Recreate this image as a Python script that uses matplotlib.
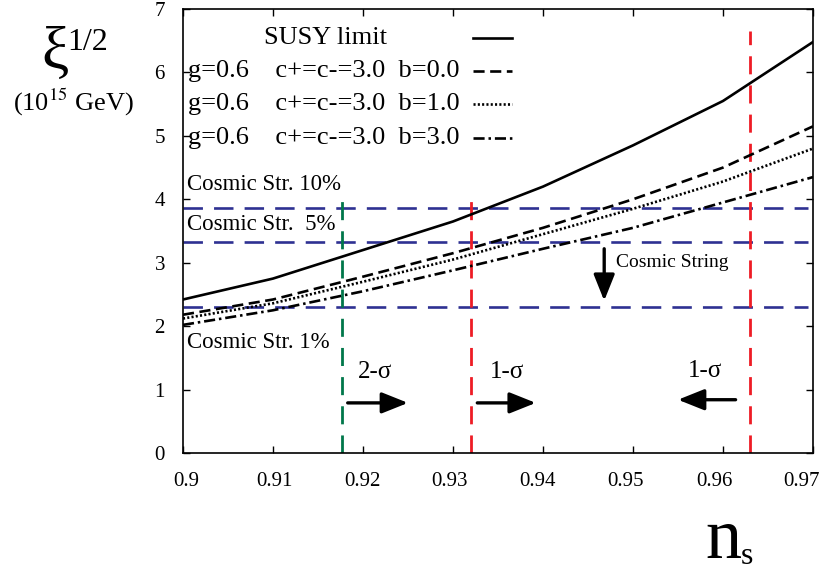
import matplotlib
matplotlib.use("Agg")
import matplotlib.pyplot as plt
import matplotlib.transforms as mtransforms

plt.rcParams['font.family'] = ['Liberation Serif', 'DejaVu Serif']
plt.rcParams['lines.scale_dashes'] = False

# data
ns = [0.90, 0.91, 0.92, 0.93, 0.94, 0.95, 0.96, 0.97]
susy = [2.42, 2.75, 3.20, 3.65, 4.20, 4.85, 5.55, 6.48]
b0 = [2.18, 2.42, 2.78, 3.15, 3.55, 4.00, 4.50, 5.15]
b1 = [2.12, 2.36, 2.70, 3.05, 3.45, 3.85, 4.28, 4.80]
b3 = [2.02, 2.25, 2.55, 2.88, 3.22, 3.55, 3.95, 4.35]

cs_levels = [3.87, 3.33, 2.30]
cs_labels = ['Cosmic Str. 10%', 'Cosmic Str.  5%', 'Cosmic Str. 1%']
cs_label_y = [4.23, 3.60, 1.74]

sigma_x = [0.9177, 0.932, 0.963]
sigma_top = [4.1, 4.1, 6.65]
sigma_col = ['#00774a', '#ee1c25', '#ee1c25']

legend_labels = ['SUSY limit',
                 'g=0.6    c+=c-=3.0  b=0.0',
                 'g=0.6    c+=c-=3.0  b=1.0',
                 'g=0.6    c+=c-=3.0  b=3.0']

styles = [dict(linestyle='-'),
          dict(dashes=(8, 4)),
          dict(dashes=(1.5, 1.6)),
          dict(dashes=(8, 2.8, 1.8, 2.8))]

fig = plt.figure(figsize=(8.24, 5.71), dpi=100)
ax = fig.add_axes([183/824, (571-453)/571, (813-183)/824, (453-9)/571])
ax.set_xlim(0.9, 0.97)
ax.set_ylim(0, 7)

# cosmic string bounds
for lev in cs_levels:
    ax.plot([0.9, 0.9694], [lev, lev], color='#2e3192', lw=1.9, dashes=(14, 8))
for lab, y in zip(cs_labels, cs_label_y):
    ax.text(0.9004, y, lab, fontsize=16.5, va='center', ha='left')

# n_s constraints
for x, top, c in zip(sigma_x, sigma_top, sigma_col):
    ax.plot([x, x], [0, top], color=c, lw=2, dashes=(13, 8))

# curves
for y, st in zip([susy, b0, b1, b3], styles):
    ax.plot(ns, y, color='black', lw=1.9, **st)

# hand-made legend
leg_y = [6.54, 6.02, 5.51, 4.97]
for i, (lab, y, st) in enumerate(zip(legend_labels, leg_y, styles)):
    if i == 0:
        ax.text(0.9158, y, lab, fontsize=19, ha='center', va='center')
    else:
        ax.text(0.9006, y, lab, fontsize=19, ha='left', va='center')
    ax.plot([0.9322, 0.9366], [y, y], color='black', lw=1.9, **st)

# arrows
arw = dict(arrowstyle='-|>,head_length=0.8,head_width=0.32', lw=2.4,
           color='black', mutation_scale=20, shrinkA=0, shrinkB=0)
ax.annotate('', xy=(0.9250, 0.79), xytext=(0.9183, 0.79), arrowprops=arw)
ax.annotate('', xy=(0.9392, 0.79), xytext=(0.9327, 0.79), arrowprops=arw)
ax.annotate('', xy=(0.9550, 0.84), xytext=(0.9614, 0.84), arrowprops=arw)
ax.annotate('', xy=(0.9468, 2.40), xytext=(0.9468, 3.22), arrowprops=arw)
ax.text(0.9213, 1.27, '2-σ', fontsize=18, ha='center', va='center')
ax.text(0.9360, 1.27, '1-σ', fontsize=18, ha='center', va='center')
ax.text(0.9580, 1.29, '1-σ', fontsize=18, ha='center', va='center')
ax.text(0.9481, 3.0, 'Cosmic String', fontsize=14, ha='left', va='center')

ax.set_xticks(ns)
ax.set_xticklabels(['0.9', '0.91', '0.92', '0.93', '0.94', '0.95', '0.96', '0.97'])
ax.set_yticks(range(8))
ax.tick_params(direction='in', top=True, right=True, length=5, width=1,
               labelsize=15)
ax.tick_params(axis='x', pad=14)
ax.tick_params(axis='y', pad=13)
# x labels drift left of their ticks in the original (spaced a bit tighter)
for i, lbl in enumerate(ax.get_xticklabels()):
    shift = mtransforms.ScaledTranslation((3 - 2 * i) / 100, 0, fig.dpi_scale_trans)
    lbl.set_transform(lbl.get_transform() + shift)
for s in ax.spines.values():
    s.set_linewidth(1.2)

# axis titles
fig.text(55/824, 1-54/571, 'ξ', fontsize=44, ha='center', va='center')
fig.text(88/824, 1-42/571, '1/2', fontsize=23, ha='center', va='center')
fig.text(74/824, 1-102/571, '(10$^{15}$ GeV)', fontsize=19, ha='center',
         va='center', math_fontfamily='stix')
fig.text(723/824, 1-540/571, 'n', fontsize=52, ha='center', va='center')
fig.text(747/824, 1-557/571, 's', fontsize=23, ha='center', va='center')

plt.savefig('out.png', dpi=100)
